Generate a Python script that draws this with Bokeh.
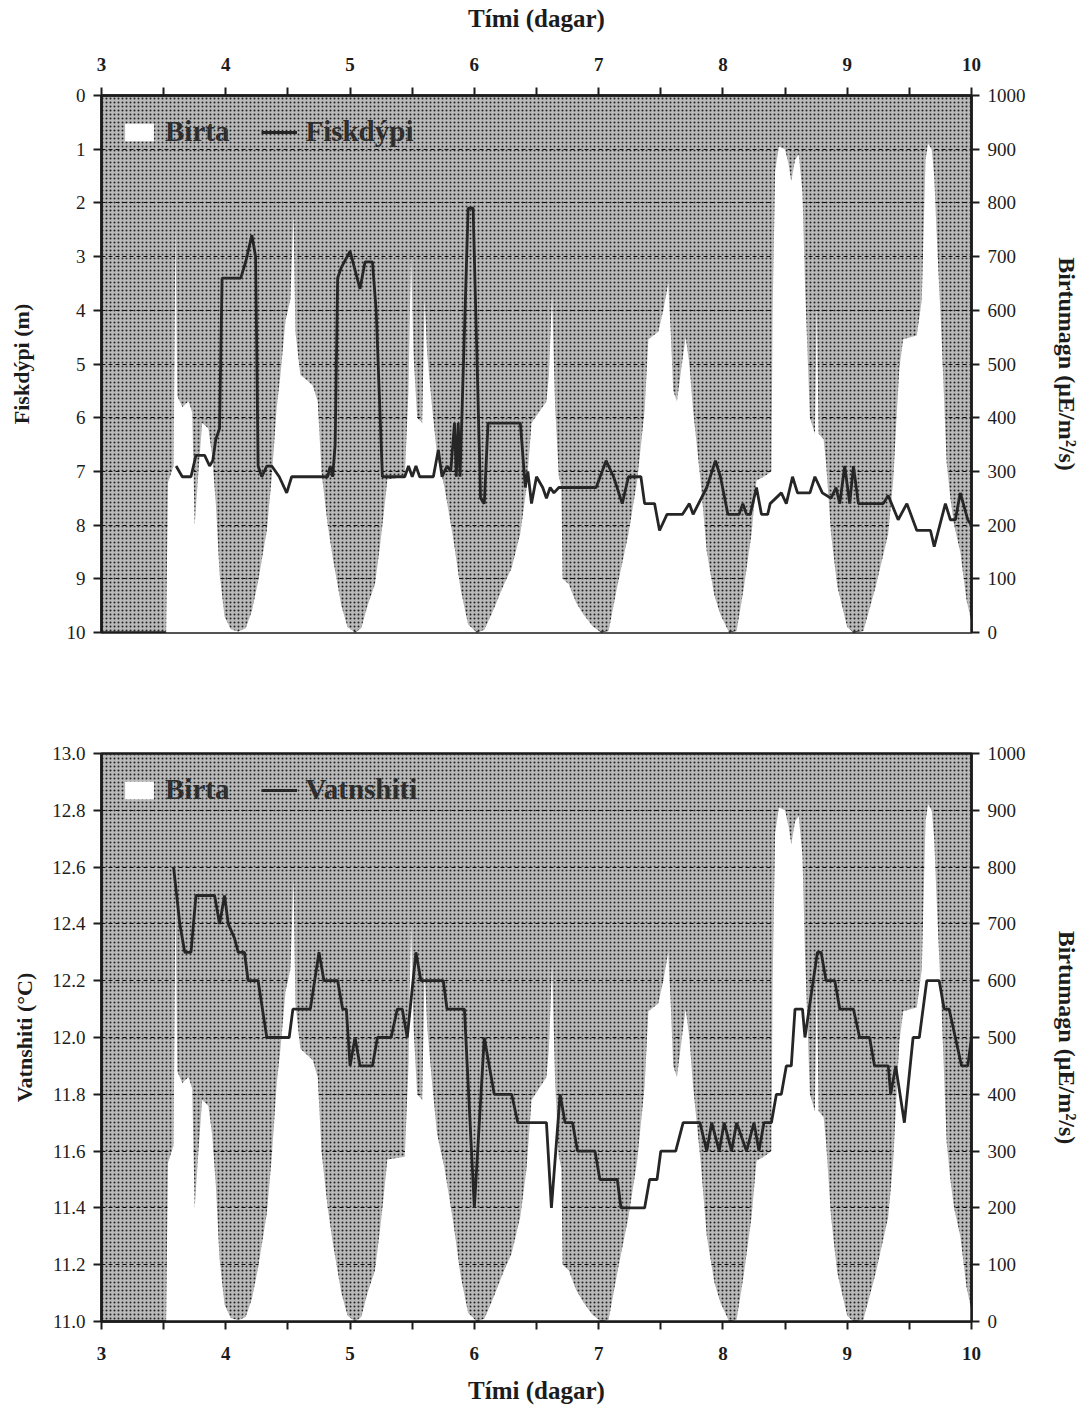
from bokeh.plotting import figure
from bokeh.models import (Range1d, LinearAxis, FixedTicker, Legend, LegendItem,
                          BoxAnnotation, ColumnDataSource, NumeralTickFormatter)
from bokeh.layouts import column
from bokeh.embed import file_html
from bokeh.resources import INLINE

# ---------------- data ----------------
day_ticks = [3, 4, 5, 6, 7, 8, 9, 10]
half_ticks = [3.5, 4.5, 5.5, 6.5, 7.5, 8.5, 9.5]
depth_ticks = [0, 1, 2, 3, 4, 5, 6, 7, 8, 9, 10]
temp_ticks = [11.0, 11.2, 11.4, 11.6, 11.8, 12.0, 12.2, 12.4, 12.6, 12.8, 13.0]
light_ticks = [0, 100, 200, 300, 400, 500, 600, 700, 800, 900, 1000]

# Birta (light, uE/m2/s)
light_t = [3.00, 3.52, 3.535, 3.58, 3.595, 3.61, 3.65, 3.70, 3.73, 3.75, 3.78, 3.81, 3.86, 3.89,
           3.92, 3.95, 3.99, 4.04, 4.10, 4.16, 4.21, 4.26, 4.33, 4.37, 4.41, 4.44, 4.48, 4.52,
           4.545, 4.56, 4.60, 4.65, 4.70, 4.74, 4.77, 4.82, 4.86, 4.93, 4.98, 5.04, 5.09, 5.14,
           5.20, 5.24, 5.27, 5.30, 5.44, 5.47, 5.49, 5.51, 5.54, 5.58, 5.60, 5.62, 5.66, 5.70,
           5.76, 5.83, 5.89, 5.95, 6.02, 6.08, 6.15, 6.23, 6.30, 6.37, 6.42, 6.46, 6.52, 6.58,
           6.60, 6.625, 6.65, 6.68, 6.70, 6.71, 6.76, 6.82, 6.88, 6.95, 7.02, 7.08, 7.15, 7.24,
           7.31, 7.37, 7.40, 7.48, 7.52, 7.56, 7.58, 7.60, 7.63, 7.67, 7.70, 7.73, 7.76, 7.82,
           7.87, 7.93, 7.98, 8.05, 8.11, 8.17, 8.23, 8.27, 8.33, 8.39, 8.40, 8.42, 8.45, 8.50,
           8.53, 8.55, 8.58, 8.61, 8.64, 8.66, 8.70, 8.74, 8.755, 8.77, 8.81, 8.83, 8.87, 8.92,
           9.00, 9.05, 9.13, 9.23, 9.33, 9.37, 9.40, 9.42, 9.45, 9.56, 9.60, 9.63, 9.65, 9.68,
           9.70, 9.72, 9.76, 9.80, 9.83, 9.86, 9.91, 9.96, 10.0]
light_v = [0, 0, 280, 310, 760, 440, 420, 430, 410, 200, 300, 390, 380, 330,
           240, 110, 30, 6, 2, 8, 40, 95, 190, 290, 420, 480, 580, 620,
           780, 560, 480, 470, 460, 430, 300, 200, 140, 50, 10, 0, 8, 50,
           90, 160, 220, 285, 290, 450, 710, 520, 400, 390, 620, 520, 420, 330,
           270, 175, 80, 15, 0, 5, 40, 85, 120, 185, 270, 390, 410, 430,
           480, 630, 420, 290, 270, 100, 90, 55, 33, 12, 0, 3, 86, 184,
           283, 414, 546, 560, 600, 650, 560, 450, 430, 500, 550, 500, 414, 283,
           151, 70, 33, 0, 3, 86, 184, 283, 290, 300, 600, 860, 905, 900,
           870, 840, 880, 890, 820, 650, 400, 370, 610, 370, 360, 316, 184, 86,
           10, 0, 3, 86, 184, 283, 414, 493, 546, 553, 620, 880, 910, 900,
           850, 740, 546, 316, 250, 200, 150, 60, 20]

# Fiskdýpi (m)
depth_t = [3.60, 3.65, 3.72, 3.76, 3.83, 3.87, 3.895, 3.92, 3.95, 3.97, 4.12, 4.16, 4.21, 4.24,
           4.26, 4.29, 4.33, 4.37, 4.43, 4.49, 4.53, 4.82, 4.84, 4.86, 4.88, 4.90, 4.93, 5.00,
           5.08, 5.12, 5.18, 5.21, 5.26, 5.44, 5.47, 5.50, 5.53, 5.56, 5.67, 5.71, 5.74, 5.78,
           5.81, 5.84, 5.855, 5.87, 5.885, 5.95, 5.99, 6.05, 6.08, 6.11, 6.37, 6.41, 6.43, 6.46,
           6.50, 6.55, 6.58, 6.61, 6.64, 6.68, 6.98, 7.06, 7.12, 7.19, 7.24, 7.34, 7.37, 7.45,
           7.49, 7.55, 7.675, 7.73, 7.76, 7.87, 7.94, 7.98, 8.04, 8.13, 8.16, 8.19, 8.22, 8.27,
           8.31, 8.36, 8.38, 8.47, 8.51, 8.56, 8.60, 8.70, 8.74, 8.80, 8.87, 8.91, 8.94, 8.98,
           9.02, 9.05, 9.09, 9.13, 9.29, 9.33, 9.41, 9.48, 9.56, 9.67, 9.70, 9.79, 9.83, 9.87,
           9.91, 9.97, 10.0]
depth_m = [6.9, 7.1, 7.1, 6.7, 6.7, 6.9, 6.8, 6.4, 6.2, 3.4, 3.4, 3.1, 2.6, 3.0,
           6.9, 7.1, 6.9, 6.9, 7.1, 7.4, 7.1, 7.1, 6.9, 7.1, 6.5, 3.4, 3.2, 2.9,
           3.6, 3.1, 3.1, 4.0, 7.1, 7.1, 6.9, 7.1, 6.9, 7.1, 7.1, 6.6, 7.1, 6.9,
           7.0, 6.1, 7.1, 6.1, 7.1, 2.1, 2.1, 7.5, 7.6, 6.1, 6.1, 7.3, 7.0, 7.6,
           7.1, 7.3, 7.5, 7.3, 7.4, 7.3, 7.3, 6.8, 7.1, 7.6, 7.1, 7.1, 7.6, 7.6,
           8.1, 7.8, 7.8, 7.6, 7.8, 7.3, 6.8, 7.1, 7.8, 7.8, 7.6, 7.8, 7.8, 7.3,
           7.8, 7.8, 7.6, 7.4, 7.6, 7.1, 7.4, 7.4, 7.1, 7.4, 7.5, 7.3, 7.6, 6.9,
           7.6, 6.9, 7.6, 7.6, 7.6, 7.45, 7.9, 7.6, 8.1, 8.1, 8.4, 7.6, 7.9, 7.9,
           7.4, 7.9, 8.0]

# Vatnshiti (°C)
temp_t = [3.58, 3.63, 3.67, 3.72, 3.76, 3.91, 3.95, 3.99, 4.02, 4.07, 4.10, 4.15, 4.18, 4.26,
          4.33, 4.51, 4.54, 4.68, 4.75, 4.79, 4.90, 4.94, 4.97, 5.00, 5.04, 5.08, 5.18, 5.22,
          5.33, 5.38, 5.42, 5.46, 5.53, 5.57, 5.75, 5.78, 5.92, 6.00, 6.08, 6.12, 6.16, 6.30,
          6.35, 6.58, 6.62, 6.69, 6.73, 6.79, 6.83, 6.97, 7.01, 7.15, 7.18, 7.37, 7.41, 7.47,
          7.50, 7.62, 7.68, 7.815, 7.87, 7.91, 7.97, 8.01, 8.07, 8.11, 8.19, 8.25, 8.29, 8.33,
          8.39, 8.43, 8.47, 8.51, 8.55, 8.58, 8.64, 8.66, 8.76, 8.79, 8.83, 8.90, 8.94, 9.05,
          9.10, 9.18, 9.22, 9.33, 9.35, 9.39, 9.46, 9.53, 9.58, 9.64, 9.74, 9.78, 9.82, 9.92,
          9.97, 10.0]
temp_c = [12.6, 12.4, 12.3, 12.3, 12.5, 12.5, 12.4, 12.5, 12.4, 12.35, 12.3, 12.3, 12.2, 12.2,
          12.0, 12.0, 12.1, 12.1, 12.3, 12.2, 12.2, 12.1, 12.1, 11.9, 12.0, 11.9, 11.9, 12.0,
          12.0, 12.1, 12.1, 12.0, 12.3, 12.2, 12.2, 12.1, 12.1, 11.4, 12.0, 11.9, 11.8, 11.8,
          11.7, 11.7, 11.4, 11.8, 11.7, 11.7, 11.6, 11.6, 11.5, 11.5, 11.4, 11.4, 11.5, 11.5,
          11.6, 11.6, 11.7, 11.7, 11.6, 11.7, 11.6, 11.7, 11.6, 11.7, 11.6, 11.7, 11.6, 11.7,
          11.7, 11.8, 11.8, 11.9, 11.9, 12.1, 12.1, 12.0, 12.3, 12.3, 12.2, 12.2, 12.1, 12.1,
          12.0, 12.0, 11.9, 11.9, 11.8, 11.9, 11.7, 12.0, 12.0, 12.2, 12.2, 12.1, 12.1, 11.9,
          11.9, 12.0]

# ---------------- styling helpers ----------------
SERIF = "Liberation Serif"
INK = "#1c1c1c"


def style_axis(ax, ticks, bold=False, size="19px"):
    ax.ticker = FixedTicker(ticks=ticks)
    ax.axis_line_color = INK
    ax.axis_line_width = 2.5
    ax.major_tick_line_color = INK
    ax.major_tick_line_width = 2
    ax.major_tick_out = 8
    ax.major_tick_in = 0
    ax.minor_tick_line_color = None
    ax.major_label_text_font = SERIF
    ax.major_label_text_font_size = size
    ax.major_label_text_color = INK
    ax.major_label_text_font_style = "bold" if bold else "normal"
    ax.axis_label_text_font = SERIF
    ax.axis_label_text_font_style = "bold"
    ax.axis_label_text_color = INK


def style_xaxis(ax, label_standoff, title_standoff):
    style_axis(ax, day_ticks, bold=True, size="19px")
    ax.ticker = FixedTicker(ticks=day_ticks, minor_ticks=half_ticks)
    ax.minor_tick_line_color = INK
    ax.minor_tick_line_width = 2
    ax.minor_tick_out = 8
    ax.minor_tick_in = 0
    ax.major_label_standoff = label_standoff
    ax.axis_label = "Tími (dagar)"
    ax.axis_label_text_font_size = "25px"
    ax.axis_label_standoff = title_standoff


def panel(fig_h, border_top, border_bottom, y_range, x_loc):
    p = figure(width=1084, height=fig_h, x_range=Range1d(3, 10), y_range=y_range,
               x_axis_location=x_loc, output_backend="svg", toolbar_location=None,
               min_border_left=101, min_border_right=113,
               min_border_top=border_top, min_border_bottom=border_bottom)
    p.extra_y_ranges = {"light": Range1d(0, 1000)}
    p.background_fill_color = "#b9b9b9"
    p.border_fill_color = "white"
    p.outline_line_color = INK
    p.outline_line_width = 2.5
    stipple = BoxAnnotation(fill_alpha=0, line_alpha=0, hatch_pattern="dot",
                            hatch_color="#202020", hatch_scale=4, hatch_weight=1.6,
                            level="image")
    p.add_layout(stipple)
    p.xgrid.visible = False
    p.ygrid.grid_line_color = "#111111"
    p.ygrid.grid_line_dash = "4 3"
    p.ygrid.grid_line_width = 1.1
    src = ColumnDataSource(dict(t=light_t, v=light_v))
    area = p.varea(x="t", y1=0, y2="v", source=src, fill_color="white",
                   y_range_name="light")
    rax = LinearAxis(y_range_name="light", axis_label="Birtumagn (µE/m²/s)")
    style_axis(rax, light_ticks, size="19px")
    rax.major_label_standoff = 8
    rax.axis_label_text_font_size = "24px"
    rax.axis_label_standoff = 25
    p.add_layout(rax, "right")
    return p, area


def add_legend(p, items):
    lg = Legend(items=items, location="top_left", orientation="horizontal")
    lg.background_fill_alpha = 0
    lg.border_line_alpha = 0
    lg.label_text_font = SERIF
    lg.label_text_font_style = "bold"
    lg.label_text_font_size = "29px"
    lg.label_text_color = "#2e2e2e"
    lg.glyph_width = 36
    lg.glyph_height = 22
    lg.label_standoff = 8
    lg.spacing = 32
    lg.padding = 4
    lg.margin = 16
    p.add_layout(lg)


# ---------------- top panel: depth ----------------
p1, area1 = panel(688, 95, 56, Range1d(10, 0), "above")
style_xaxis(p1.xaxis[0], 17, 23)
style_axis(p1.yaxis[0], depth_ticks)
p1.yaxis[0].axis_label = "Fiskdýpi (m)"
p1.yaxis[0].axis_label_text_font_size = "22px"
p1.yaxis[0].major_label_standoff = 8
p1.yaxis[0].axis_label_standoff = 30
line1 = p1.line(depth_t, depth_m, line_color="#262626", line_width=2.8)
add_legend(p1, [LegendItem(label="Birta", renderers=[area1]),
                LegendItem(label="Fiskdýpi", renderers=[line1])])

# ---------------- bottom panel: temperature ----------------
p2, area2 = panel(718, 65, 84, Range1d(11, 13), "below")
style_xaxis(p2.xaxis[0], 17, 14)
style_axis(p2.yaxis[0], temp_ticks)
p2.yaxis[0].formatter = NumeralTickFormatter(format="0.0")
p2.yaxis[0].axis_label = "Vatnshiti (°C)"
p2.yaxis[0].axis_label_text_font_size = "22px"
p2.yaxis[0].major_label_standoff = 8
p2.yaxis[0].axis_label_standoff = 12
line2 = p2.line(temp_t, temp_c, line_color="#262626", line_width=2.8)
add_legend(p2, [LegendItem(label="Birta", renderers=[area2]),
                LegendItem(label="Vatnshiti", renderers=[line2])])

layout = column(p1, p2)
open("out.html", "w").write(file_html(layout, INLINE))
